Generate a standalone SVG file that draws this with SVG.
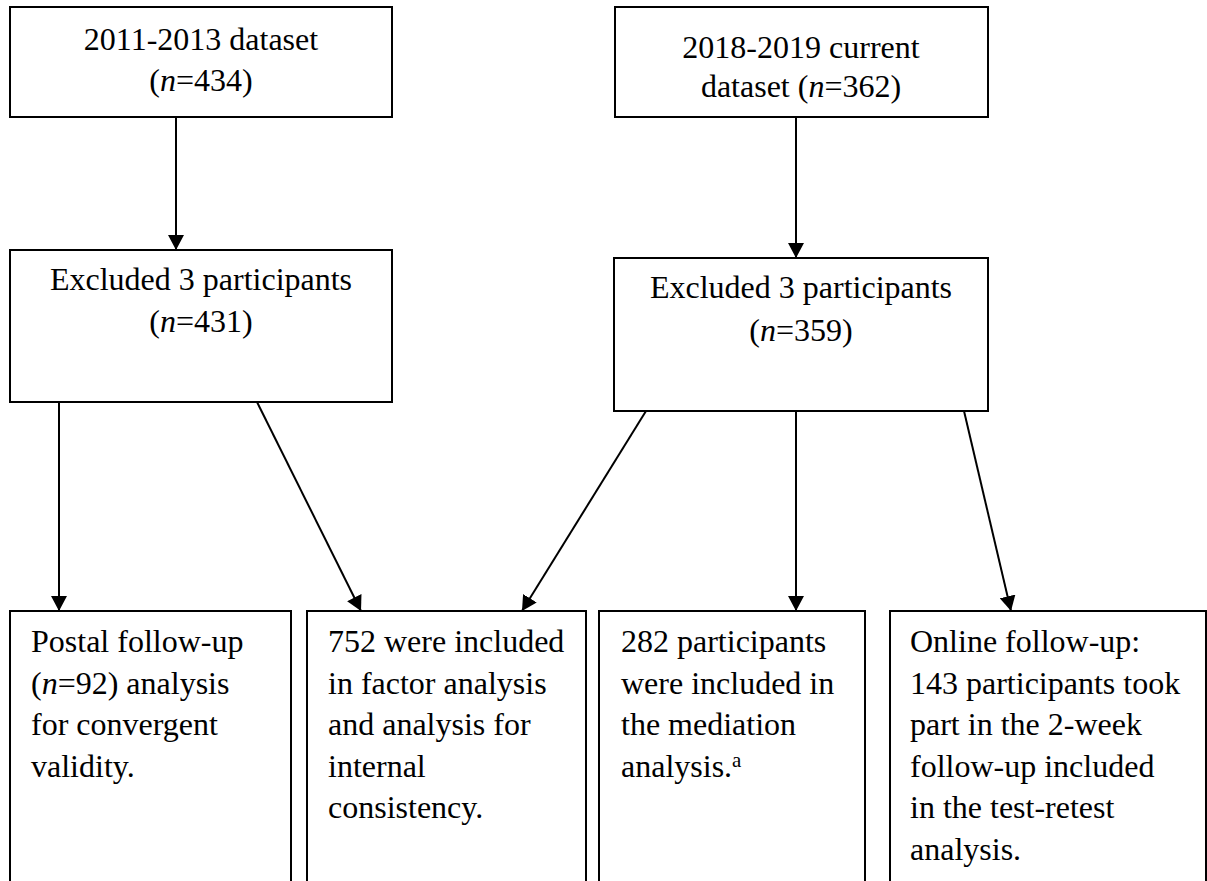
<svg xmlns="http://www.w3.org/2000/svg" width="1207" height="881" viewBox="0 0 1207 881">
  <style>
    .box { fill: #ffffff; stroke: #000000; stroke-width: 2; }
    .t { font-family: "Liberation Serif", "Times New Roman", serif; font-size: 32px; fill: #000000; }
    .c { text-anchor: middle; }
    .i { font-style: italic; }
    .sup { font-size: 21px; }
    .link { stroke: #000000; stroke-width: 2; fill: none; marker-end: url(#arrow); }
  </style>
  <defs>
    <marker id="arrow" markerUnits="userSpaceOnUse" markerWidth="16" markerHeight="16" refX="15" refY="8" orient="auto">
      <path d="M0,0 L15,8 L0,16 Z" fill="#000000"/>
    </marker>
  </defs>
  <rect width="1207" height="881" fill="#ffffff"/>

  <g id="connectors">
    <line class="link" x1="176" y1="117" x2="176" y2="250"/>
    <line class="link" x1="796" y1="117" x2="796" y2="258"/>
    <line class="link" x1="59" y1="402" x2="59" y2="611"/>
    <line class="link" x1="257" y1="402" x2="361" y2="611"/>
    <line class="link" x1="646" y1="411" x2="522" y2="611"/>
    <line class="link" x1="796" y1="411" x2="796" y2="611"/>
    <line class="link" x1="964" y1="411" x2="1011" y2="611"/>
  </g>

  <g id="dataset2011">
    <rect class="box" x="10" y="7" width="382" height="110"/>
    <text class="t c" x="201" y="50">2011-2013 dataset</text>
    <text class="t c" x="201" y="91">(<tspan class="i">n</tspan>=434)</text>
  </g>

  <g id="dataset2018">
    <rect class="box" x="615" y="7" width="373" height="110"/>
    <text class="t c" x="801" y="58">2018-2019 current</text>
    <text class="t c" x="801" y="97">dataset (<tspan class="i">n</tspan>=362)</text>
  </g>

  <g id="excluded2011">
    <rect class="box" x="10" y="250" width="382" height="152"/>
    <text class="t c" x="201" y="290">Excluded 3 participants</text>
    <text class="t c" x="201" y="332">(<tspan class="i">n</tspan>=431)</text>
  </g>

  <g id="excluded2018">
    <rect class="box" x="614" y="258" width="374" height="153"/>
    <text class="t c" x="801" y="298">Excluded 3 participants</text>
    <text class="t c" x="801" y="341">(<tspan class="i">n</tspan>=359)</text>
  </g>

  <g id="postal">
    <rect class="box" x="10" y="611" width="281" height="300"/>
    <text class="t" x="31" y="652">Postal follow-up</text>
    <text class="t" x="31" y="693.5">(<tspan class="i">n</tspan>=92) analysis</text>
    <text class="t" x="31" y="735">for convergent</text>
    <text class="t" x="31" y="776.5">validity.</text>
  </g>

  <g id="factor">
    <rect class="box" x="307" y="611" width="279" height="300"/>
    <text class="t" x="328" y="652">752 were included</text>
    <text class="t" x="328" y="693.5">in factor analysis</text>
    <text class="t" x="328" y="735">and analysis for</text>
    <text class="t" x="328" y="776.5">internal</text>
    <text class="t" x="328" y="818">consistency.</text>
  </g>

  <g id="mediation">
    <rect class="box" x="599" y="611" width="266" height="300"/>
    <text class="t" x="621" y="652">282 participants</text>
    <text class="t" x="621" y="693.5">were included in</text>
    <text class="t" x="621" y="735">the mediation</text>
    <text class="t" x="621" y="776.5">analysis.<tspan class="sup" dy="-10">a</tspan></text>
  </g>

  <g id="online">
    <rect class="box" x="890" y="611" width="316" height="300"/>
    <text class="t" x="910" y="652">Online follow-up:</text>
    <text class="t" x="910" y="693.5">143 participants took</text>
    <text class="t" x="910" y="735">part in the 2-week</text>
    <text class="t" x="910" y="776.5">follow-up included</text>
    <text class="t" x="910" y="818">in the test-retest</text>
    <text class="t" x="910" y="859.5">analysis.</text>
  </g>
</svg>
